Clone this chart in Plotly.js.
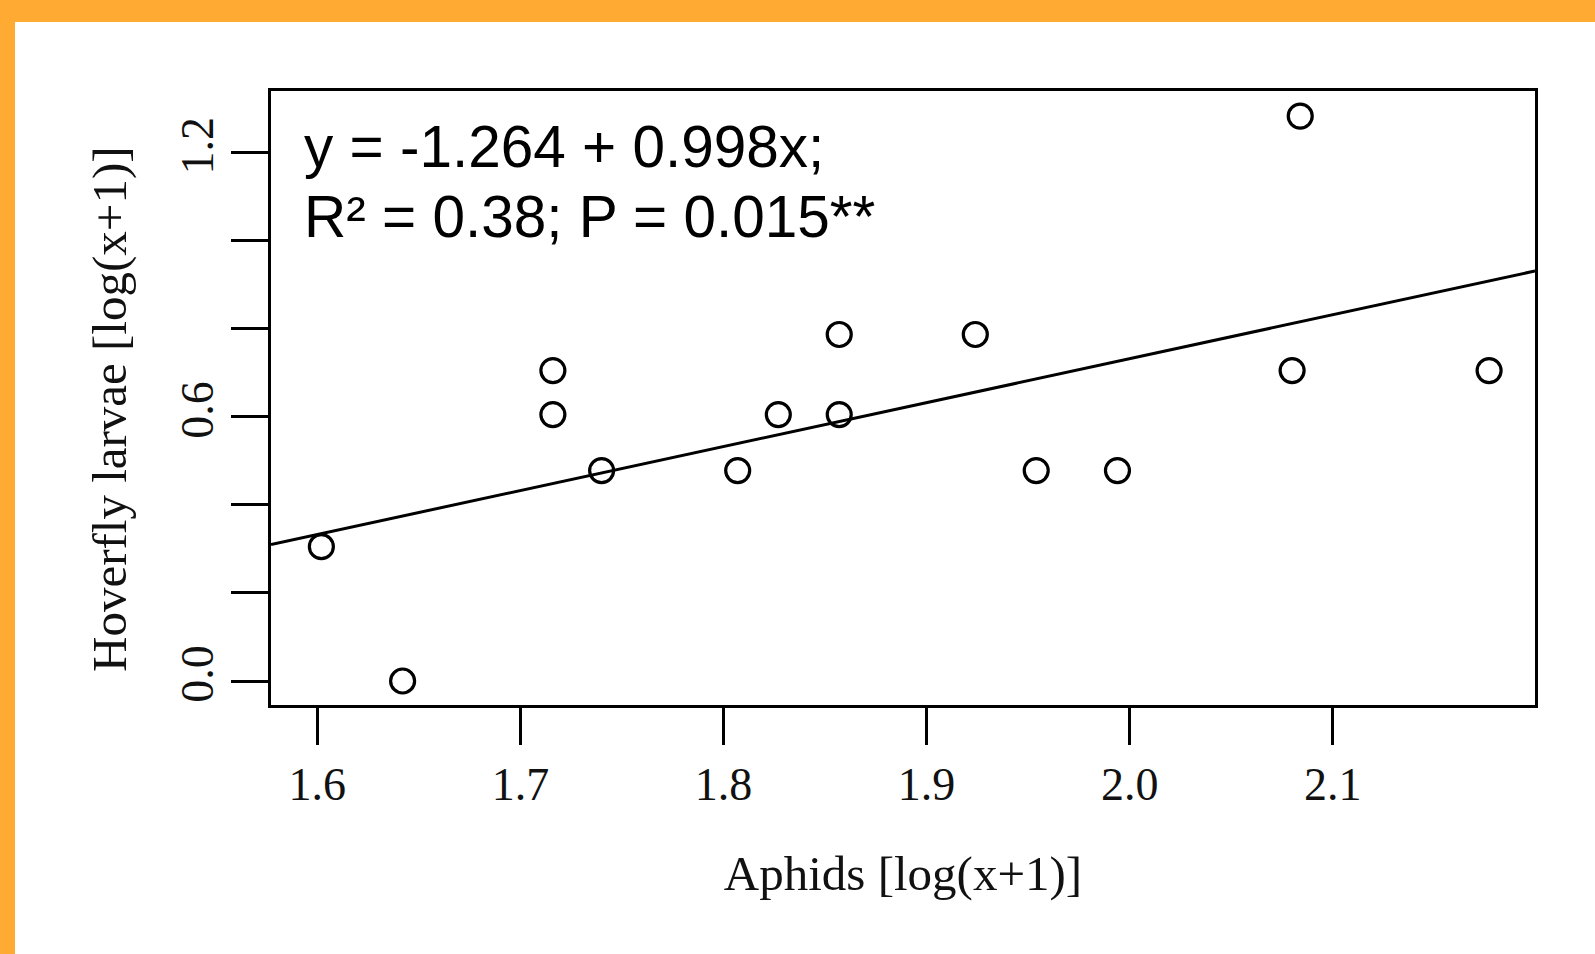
<!DOCTYPE html>
<html><head><meta charset="utf-8">
<script src="https://cdn.plot.ly/plotly-3.0.1.min.js"></script>
<style>
html,body{margin:0;padding:0;background:#FFAA33;width:1595px;height:954px;overflow:hidden}
#chart{position:absolute;left:15px;top:22px;width:1580px;height:932px;background:#fff}
</style></head><body><div id="chart"></div>
<script>
// Data
const aphids   = [1.602, 1.642, 1.716, 1.716, 1.740, 1.807, 1.827, 1.857, 1.857, 1.924, 1.954, 1.994, 2.080, 2.084, 2.177];
const hoverfly = [0.305, 0.000, 0.705, 0.605, 0.478, 0.478, 0.605, 0.787, 0.605, 0.787, 0.478, 0.478, 0.705, 1.283, 0.705];
const fitIntercept = -1.264;
const fitSlope = 0.998;
const xTickVals = [1.6, 1.7, 1.8, 1.9, 2.0, 2.1];
const xTickText = ['1.6', '1.7', '1.8', '1.9', '2.0', '2.1'];
const yTickVals = [0, 0.2, 0.4, 0.6, 0.8, 1.0, 1.2];
const yTickText = ['0.0', '', '', '0.6', '', '', '1.2'];
const xRange = [1.5772, 2.1996];
const yRange = [-0.0545, 1.340];
const eqLines = ['y = -1.264 + 0.998x;', 'R² = 0.38; P = 0.015**'];
const xTitle = 'Aphids [log(x+1)]';
const yTitle = 'Hoverfly larvae [log(x+1)]';

const fitX = xRange.slice();
const fitY = fitX.map(v => fitIntercept + fitSlope * v);

const traces = [
  {x: fitX, y: fitY, mode: 'lines', type: 'scatter', line: {color: '#000', width: 3}, hoverinfo: 'skip'},
  {x: aphids, y: hoverfly, mode: 'markers', type: 'scatter',
   marker: {symbol: 'circle', size: 24, color: 'rgba(0,0,0,0)', line: {color: '#000', width: 3.2}}}
];

const serif = '"Liberation Serif", "Times New Roman", serif';
const sans = '"Liberation Sans", Arial, sans-serif';
const layout = {
  width: 1580, height: 932,
  paper_bgcolor: '#fff', plot_bgcolor: '#fff',
  showlegend: false,
  margin: {l: 256, r: 60, t: 69, b: 249},
  xaxis: {
    range: xRange, tickmode: 'array', tickvals: xTickVals, ticktext: xTickText,
    ticks: 'outside', ticklen: 37, tickwidth: 3, tickcolor: '#000',
    showline: true, linewidth: 3, linecolor: '#000', mirror: true,
    showgrid: false, zeroline: false,
    tickfont: {family: serif, size: 46, color: '#111'},
    title: {text: xTitle, font: {family: serif, size: 49, color: '#111'}, standoff: 47},
    automargin: false
  },
  yaxis: {
    range: yRange, tickmode: 'array', tickvals: yTickVals, ticktext: yTickText,
    ticks: 'outside', ticklen: 37, tickwidth: 3, tickcolor: '#000', tickangle: -90,
    showline: true, linewidth: 3, linecolor: '#000', mirror: true,
    showgrid: false, zeroline: false,
    tickfont: {family: serif, size: 46, color: '#111'},
    automargin: false
  },
  annotations: [
    {xref: 'paper', yref: 'paper', x: -0.1282, y: 0.482, xanchor: 'center', yanchor: 'middle', showarrow: false,
     textangle: -90, text: yTitle, font: {family: serif, size: 49, color: '#111'}},
    {xref: 'paper', yref: 'paper', x: 0.0245, y: 0.910, xanchor: 'left', yanchor: 'middle', showarrow: false,
     text: eqLines[0], font: {family: sans, size: 58.5, color: '#000'}},
    {xref: 'paper', yref: 'paper', x: 0.0245, y: 0.796, xanchor: 'left', yanchor: 'middle', showarrow: false,
     text: eqLines[1], font: {family: sans, size: 58.5, color: '#000'}}
  ]
};
Plotly.newPlot('chart', traces, layout, {displayModeBar: false, staticPlot: true});
</script></body></html>
